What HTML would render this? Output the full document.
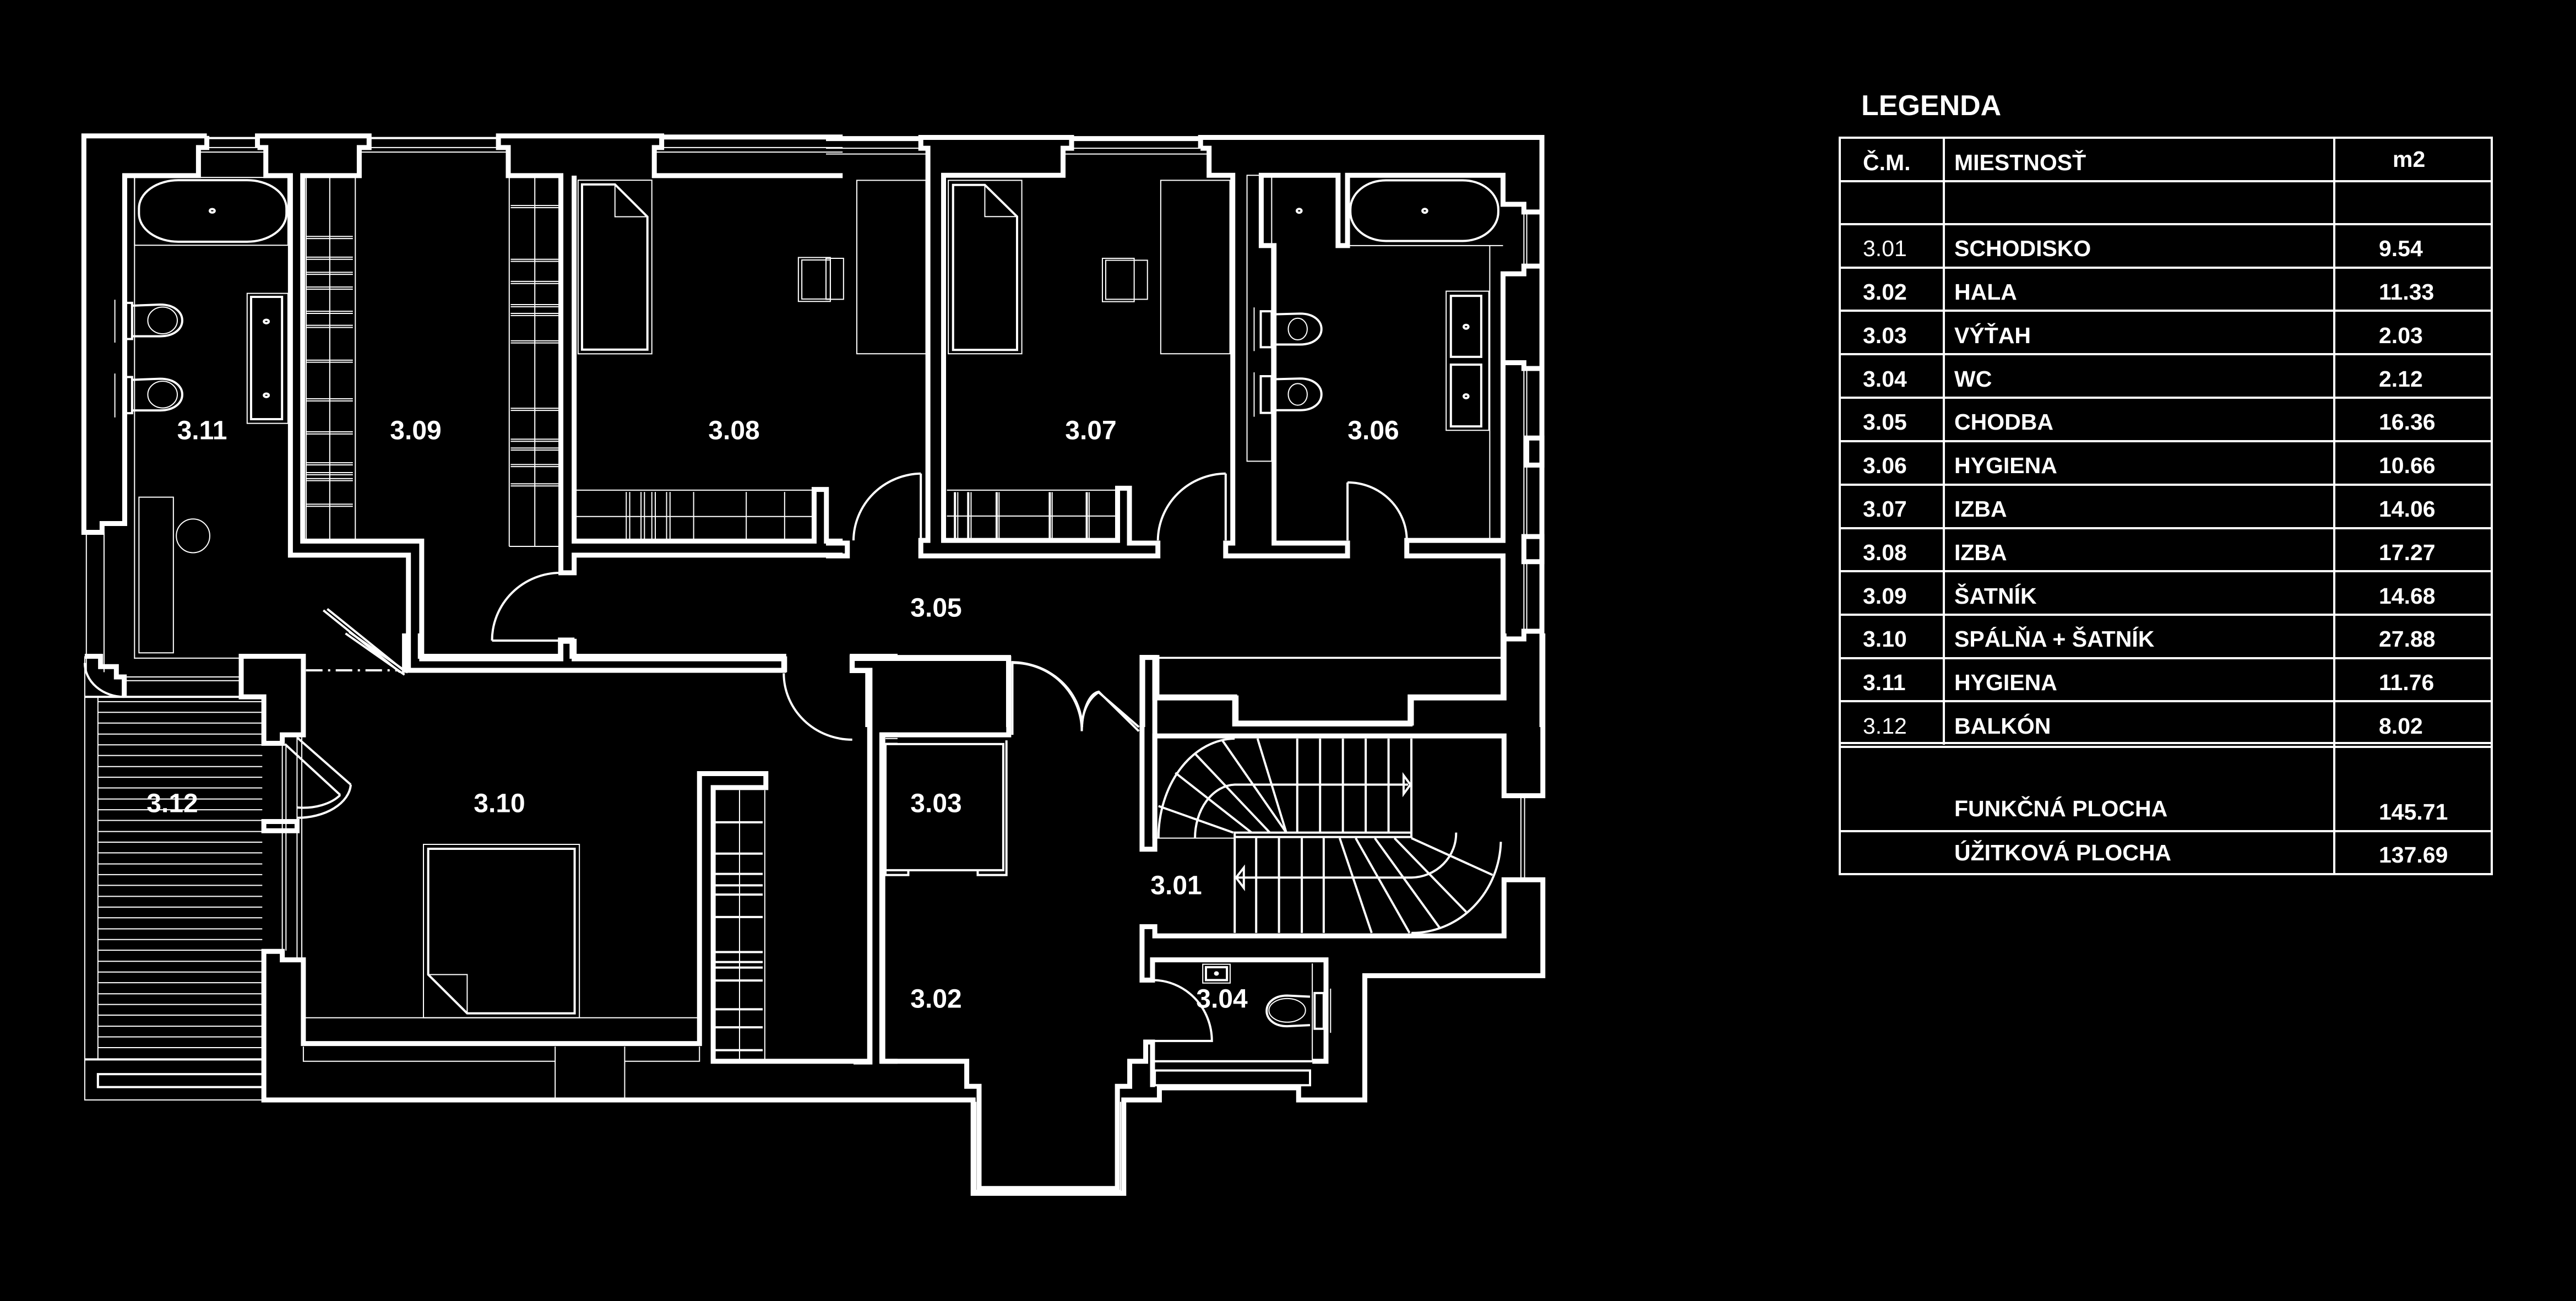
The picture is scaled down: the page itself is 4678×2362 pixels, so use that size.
<!DOCTYPE html>
<html><head><meta charset="utf-8">
<style>
html,body{margin:0;padding:0;background:#000;}
svg{display:block}
svg *{vector-effect:non-scaling-stroke}
.w{stroke:#fff;stroke-width:9;fill:none;stroke-linejoin:miter}
.m{stroke:#fff;stroke-width:4;fill:none}
.t{stroke:#fff;stroke-width:2;fill:none}
.lbl{font-family:"Liberation Sans",sans-serif;font-weight:bold;font-size:48px;fill:#fff;text-anchor:middle;dominant-baseline:central}
.lg{font-family:"Liberation Sans","DejaVu Sans",sans-serif;font-weight:bold;font-size:41px;fill:#fff}
</style></head>
<body>
<svg width="4678" height="2362" viewBox="0 0 4678 2362" xmlns="http://www.w3.org/2000/svg">
<rect width="4678" height="2362" fill="#000"/>

<!-- ZOOM2 region -->
<g transform="translate(130,220) scale(0.893,0.638)">
<polyline class="w" points="275,42 25,42 25,1170 62,1170 62,1145 108,1145 108,155 258,155 258,75 275,75 275,42"/>
<polyline class="w" points="378,75 378,42 605,42 605,75 585,75 585,155 470,155 470,1195 712,1195 712,1530 995,1530 995,1480 1022,1480 1022,1530 1450,1530 1450,1568"/>
<polyline class="w" points="378,75 395,75 395,155 445,155 445,1235 685,1235 685,1568"/>
<polyline class="w" points="1568,155 1185,155 1185,75 1200,75 1200,42 868,42 868,75 888,75 888,155 995,155 995,1285 1022,1285 1022,1235 1568,1235"/>
<polyline class="w" points="1022,155 1022,1195 1510,1195 1510,1048 1535,1048 1535,1195 1568,1195"/>
<line class="m" x1="275" y1="48" x2="378" y2="48"/><line class="t" x1="275" y1="75" x2="378" y2="75"/><line class="t" x1="258" y1="88" x2="395" y2="88"/>
<line class="m" x1="605" y1="48" x2="868" y2="48"/><line class="t" x1="605" y1="75" x2="868" y2="75"/><line class="t" x1="585" y1="88" x2="888" y2="88"/>
<line class="w" x1="1200" y1="45" x2="1568" y2="45"/><line class="t" x1="1200" y1="75" x2="1568" y2="75"/><line class="t" x1="1185" y1="88" x2="1568" y2="88"/>
<!-- 3.11 -->
<line class="t" x1="128" y1="160" x2="128" y2="1530"/>
<rect class="t" x="128" y="160" width="312" height="193"/>
<rect class="m" x="137" y="168" width="300" height="175" rx="80" ry="80"/>
<circle class="m" cx="286" cy="255" r="5"/>
<rect class="t" x="357" y="490" width="83" height="370"/>
<rect class="m" x="365" y="500" width="63" height="348"/>
<circle class="m" cx="396" cy="570" r="5"/><circle class="m" cx="396" cy="780" r="5"/>
<rect class="m" x="110" y="517" width="13" height="103"/>
<path class="m" d="M123,525 L180,522 C240,522 240,612 180,612 L123,612"/>
<ellipse class="t" cx="185" cy="567" rx="30" ry="38"/>
<rect class="m" x="110" y="728" width="13" height="103"/>
<path class="m" d="M123,736 L180,733 C240,733 240,823 180,823 L123,823"/>
<ellipse class="t" cx="185" cy="778" rx="30" ry="38"/>
<line class="t" x1="88" y1="508" x2="88" y2="630"/><line class="t" x1="88" y1="718" x2="88" y2="843"/>
<rect class="t" x="137" y="1070" width="70" height="443"/>
<ellipse class="t" cx="247" cy="1180" rx="34" ry="48"/>
<line class="t" x1="128" y1="1528" x2="345" y2="1528"/>
<line class="t" x1="30" y1="1170" x2="30" y2="1568"/><line class="t" x1="66" y1="1170" x2="66" y2="1568"/>
<line class="m" x1="512" y1="1392" x2="668" y2="1568"/><line class="m" x1="520" y1="1388" x2="676" y2="1564"/>
<!-- 3.09 -->
<line class="t" x1="477" y1="160" x2="477" y2="1195"/><line class="t" x1="525" y1="160" x2="525" y2="1195"/><line class="t" x1="577" y1="160" x2="577" y2="1195"/>
<g class="t">
<path d="M477,328H572M477,387H572M477,430H572M477,472H572M477,541H572M477,581H572M477,680H572M477,790H572M477,884H572M477,972H572M477,1000H572M477,1017H572M477,1090H572"/>
<path d="M477,334H572M477,393H572M477,436H572M477,478H572M477,547H572M477,587H572M477,686H572M477,796H572M477,890H572M477,978H572M477,1006H572M477,1023H572M477,1096H572"/>
</g>
<line class="t" x1="890" y1="160" x2="890" y2="1210"/><line class="t" x1="942" y1="160" x2="942" y2="1210"/><line class="t" x1="890" y1="1210" x2="990" y2="1210"/>
<g class="t">
<path d="M893,240H990M893,393H990M893,456H990M893,522H990M893,547H990M893,625H990M893,817H990M893,905H990M893,930H990M893,977H990M893,1032H990"/>
<path d="M893,246H990M893,399H990M893,462H990M893,528H990M893,553H990M893,631H990M893,823H990M893,911H990M893,936H990M893,983H990M893,1038H990"/>
</g>
<!-- 3.08 -->
<rect class="t" x="1030" y="168" width="150" height="494"/>
<path class="m" d="M1038,180 L1105,180 L1171,272 L1171,650 L1038,650 Z"/>
<path class="t" d="M1105,180 L1105,272 L1171,272"/>
<rect class="t" x="1478" y="388" width="65" height="125"/>
<rect class="t" x="1485" y="395" width="58" height="111"/>
<line class="t" x1="1025" y1="1050" x2="1510" y2="1050"/><line class="t" x1="1025" y1="1125" x2="1510" y2="1125"/>
<path class="t" d="M1128,1055V1192M1135,1055V1192M1158,1055V1192M1165,1055V1192M1180,1055V1192M1187,1055V1192M1210,1055V1192M1217,1055V1192M1265,1055V1192M1372,1055V1192M1450,1055V1192"/>
<path class="m" d="M855,1478 A140,193 0 0 1 995,1285"/>
<line class="m" x1="855" y1="1478" x2="995" y2="1478"/>
</g>

<!-- ZOOM3 region -->
<g transform="translate(1500,220) scale(0.861,0.7015)">
<line class="w" x1="0" y1="45" x2="200" y2="45"/><line class="t" x1="0" y1="70" x2="200" y2="70"/><line class="t" x1="0" y1="85" x2="215" y2="85"/>
<line class="w" x1="518" y1="45" x2="790" y2="45"/><line class="t" x1="518" y1="70" x2="790" y2="70"/><line class="t" x1="500" y1="85" x2="808" y2="85"/>
<polyline class="w" points="0,1092 45,1092 45,1125 0,1125"/>
<path class="m" d="M58,1085 A145,175 0 0 1 200,912"/><line class="m" x1="200" y1="912" x2="200" y2="1085"/>
<polygon class="w" points="200,42 518,42 518,70 500,70 500,140 248,140 248,1085 615,1085 615,950 640,950 640,1092 700,1092 700,1125 200,1125 200,1085 215,1085 215,70 200,70"/>
<path class="m" d="M700,1085 A145,175 0 0 1 843,912"/><line class="m" x1="843" y1="912" x2="843" y2="1085"/>
<polyline class="w" points="790,70 790,42 1510,42 1510,1568"/>
<polyline class="w" points="790,70 808,70 808,140 858,140 858,1092 843,1092 843,1125 1100,1125 1100,1092 945,1092 945,322 918,322 918,140 1080,140 1080,322 1100,322 1100,140 1428,140 1428,215 1472,215 1472,235 1510,235"/>
<polyline class="w" points="1510,375 1472,375 1472,395 1428,395 1428,625 1472,625 1472,640 1510,640"/>
<rect class="w" x="1478" y="820" width="32" height="70"/>
<polyline class="w" points="1428,625 1428,1085 1225,1085 1225,1125 1428,1125 1428,1340 1472,1340 1472,1320 1510,1320"/>
<rect class="w" x="1472" y="1075" width="38" height="65"/>
<path class="t" d="M1472,235V375M1478,235V375M1472,640V1075M1478,640V1075M1472,1140V1320M1478,1140V1320"/>
<path class="m" d="M1100,935 A125,150 0 0 1 1225,1085"/><line class="m" x1="1100" y1="935" x2="1100" y2="1085"/>
<line class="t" x1="1400" y1="322" x2="1400" y2="1085"/>
<rect class="t" x="888" y="140" width="52" height="740"/>
<line class="t" x1="1100" y1="322" x2="1428" y2="322"/>
<rect class="m" x="1106" y="153" width="312" height="157" rx="75" ry="75"/>
<circle class="m" cx="1263" cy="232" r="5"/><circle class="m" cx="998" cy="232" r="5"/>
<rect class="t" x="1308" y="440" width="90" height="360"/>
<rect class="m" x="1318" y="452" width="64" height="158"/><rect class="m" x="1318" y="630" width="64" height="160"/>
<circle class="m" cx="1350" cy="532" r="5"/><circle class="m" cx="1350" cy="712" r="5"/>
<rect class="m" x="917" y="492" width="23" height="93"/>
<path class="m" d="M940,500 L1000,498 C1060,498 1060,578 1000,578 L940,578"/><ellipse class="t" cx="995" cy="538" rx="20" ry="28"/>
<rect class="m" x="917" y="660" width="23" height="95"/>
<path class="m" d="M940,668 L1000,666 C1060,666 1060,748 1000,748 L940,748"/><ellipse class="t" cx="995" cy="707" rx="20" ry="28"/>
<line class="t" x1="903" y1="482" x2="903" y2="595"/><line class="t" x1="903" y1="650" x2="903" y2="765"/>
<!-- 3.07 furniture -->
<rect class="t" x="258" y="153" width="155" height="449"/>
<path class="m" d="M268,165 L335,165 L403,247 L403,592 L268,592 Z"/>
<path class="t" d="M335,165 L335,247 L403,247"/>
<rect class="t" x="706" y="153" width="146" height="449"/>
<rect class="t" x="583" y="355" width="67" height="112"/><rect class="t" x="590" y="360" width="88" height="101"/>
<rect class="t" x="65" y="153" width="146" height="449"/>
<rect class="t" x="0" y="355" width="37" height="106"/>
<line class="t" x1="255" y1="955" x2="612" y2="955"/><line class="t" x1="255" y1="1022" x2="612" y2="1022"/>
<path class="m" d="M272,960V1085M300,960V1085M360,960V1085M472,960V1085M550,960V1085"/>
<path class="t" d="M278,960V1085M306,960V1085M365,960V1085M477,960V1085M555,960V1085"/>
<!-- corridor bottom -->
<polyline class="w" points="88,1568 88,1422 55,1422 55,1388 385,1388 385,1568"/>
<path class="m" d="M392,1400 A150,170 0 0 1 540,1568"/>
<path class="m" d="M540,1568 A60,100 0 0 1 575,1478 L660,1568"/>
<polyline class="w" points="668,1568 668,1388 698,1388 698,1490 862,1490 862,1560 1232,1560 1232,1490 1428,1490 1428,1340"/>
<line class="t" x1="698" y1="1390" x2="1425" y2="1390"/>
</g>

<!-- ZOOM4 region -->
<g transform="translate(130,1150) scale(0.9566,0.6696)">
<line class="m" x1="520" y1="0" x2="632" y2="112"/><line class="m" x1="527" y1="-4" x2="638" y2="106"/>
<line class="m" x1="445" y1="100" x2="620" y2="100" stroke-dasharray="30,10,4,10"/>
<polygon class="w" points="322,62 440,62 440,275 400,275 400,298 365,298 365,172 322,172"/>
<polyline class="w" points="662,0 662,62 928,62 928,18 950,18 950,62 1352,62 1352,100 632,100 632,0"/>
<polyline class="w" points="1568,62 1482,62 1482,100 1515,100 1515,1160 1218,1160 1218,418 1318,418 1318,380 1192,380 1192,1112 440,1112 440,885 400,885 400,862 365,862 365,1265 1568,1265"/>
<polyline class="w" points="1568,275 1540,275 1540,1160 1568,1160"/>
<path class="t" d="M1545,285H1568M1545,298H1568M1545,642H1568M1545,655H1568"/>
<rect class="w" x="365" y="510" width="63" height="25"/>
<path class="t" d="M400,300V860M407,300V860M428,280V885M437,280V885"/>
<line class="m" x1="405" y1="300" x2="510" y2="438"/><line class="m" x1="428" y1="282" x2="530" y2="410"/>
<path class="m" d="M428,472 A82,70 0 0 0 510,438"/><path class="m" d="M428,500 A102,95 0 0 0 530,410"/>
<!-- balcony -->
<polyline class="t" points="25,62 25,1265 365,1265"/>
<line class="t" x1="50" y1="172" x2="50" y2="1155"/>
<g class="t">
<path d="M50,185H362M50,214H362M50,243H362M50,273H362M50,302H362M50,331H362M50,361H362M50,390H362M50,419H362M50,449H362M50,478H362M50,507H362M50,537H362M50,566H362M50,595H362M50,625H362M50,654H362M50,683H362M50,713H362M50,742H362M50,771H362M50,801H362M50,830H362M50,859H362M50,889H362M50,918H362M50,947H362M50,977H362M50,1006H362M50,1035H362M50,1065H362M50,1094H362M50,1123H362"/>
</g>
<line class="m" x1="25" y1="1155" x2="365" y2="1155"/>
<rect class="m" x="50" y="1195" width="315" height="35"/>
<line class="m" x1="25" y1="172" x2="322" y2="172"/>
<polyline class="w" points="25,62 55,62 55,90 85,90 85,118 100,118 100,172"/>
<path class="m" d="M25,80 A75,92 0 0 0 100,172"/>
<line class="t" x1="100" y1="118" x2="322" y2="118"/><line class="t" x1="100" y1="128" x2="322" y2="128"/>
<!-- bed -->
<rect class="t" x="668" y="572" width="296" height="470"/>
<path class="m" d="M677,584 L955,584 L955,1030 L751,1030 L677,925 Z"/>
<path class="t" d="M677,925 L751,925 L751,1030"/>
<line class="t" x1="440" y1="1042" x2="1192" y2="1042"/>
<path class="t" d="M440,1120V1160H918M1050,1160H1192V1120M918,1120V1260M1050,1120V1260"/>
<path class="m" d="M1352,108 A130,180 0 0 0 1482,288"/>
<path class="t" d="M1268,425V1155M1316,425V1155"/>
<g class="m">
<path d="M1222,512H1312M1222,597H1312M1222,652H1312M1222,683H1312M1222,708H1312M1222,769H1312M1222,864H1312M1222,891H1312M1222,906H1312M1222,941H1312M1222,1019H1312M1222,1068H1312M1222,1130H1312"/>
</g>
</g>

<!-- ZOOM5 region -->
<g transform="translate(1550,1150) scale(0.829,0.6696)">
<polyline class="w" points="0,68 340,68 340,275 62,275 62,1160 248,1160 248,1228 275,1228 275,1505 578,1505 578,1228 605,1228 605,1160 640,1160 640,1108 655,1108 655,1230"/>
<line class="m" x1="348" y1="75" x2="348" y2="275"/>
<polyline class="w" points="0,100 36,100 36,1162 0,1162"/>
<polyline class="w" points="0,1265 262,1265 262,1518 592,1518 592,1265 670,1265 670,1232 975,1232 975,1265 1120,1265 1120,928 1510,928 1510,668 1425,668 1425,820 660,820 660,795 632,795 632,940 655,940 655,885 1035,885 1035,1160 1005,1160"/>
<path class="t" d="M268,1270V1510H585V1270"/>
<rect class="m" x="70" y="300" width="258" height="342"/>
<path class="m" d="M70,642V655H120V642M272,642V655H335V290"/>
<path class="m" d="M348,80 A150,185 0 0 1 500,265"/>
<path class="m" d="M500,265 A40,110 0 0 1 537,158 L625,265"/>
<rect class="w" x="632" y="65" width="28" height="520"/>
<line class="t" x1="660" y1="65" x2="1420" y2="65"/>
<polyline class="w" points="660,65 660,175 838,175 838,243 1222,243 1222,175 1425,175 1425,0"/>
<polyline class="w" points="1510,0 1510,440 1425,440 1425,278 660,278 660,555"/>
<path class="t" d="M1462,440V668M1470,440V668"/>
<!-- stairs -->
<rect class="m" x="835" y="540" width="387" height="12"/>
<line class="t" x1="660" y1="555" x2="835" y2="555"/>
<path class="m" d="M972,285V540M1022,285V540M1072,285V540M1122,285V540M1172,285V540M1222,285V540"/>
<path class="m" d="M832,540L668,468M872,540L705,378M912,540L748,326M948,540L808,290M948,540L885,285"/>
<path class="m" d="M668,555 A170,270 0 0 1 835,285"/>
<path class="m" d="M748,555 A90,145 0 0 1 835,410 L1215,410"/>
<path class="m" d="M1205,385 L1220,410 L1205,435 Z"/>
<path class="m" d="M835,555V812M882,555V812M932,555V812M982,555V812M1030,555V812"/>
<path class="m" d="M1065,555L1135,812M1100,555L1218,812M1142,555L1285,800M1185,555L1342,755M1222,555L1400,655"/>
<path class="m" d="M1222,812 A195,255 0 0 0 1418,565"/>
<path class="m" d="M1320,540 A100,120 0 0 1 1222,662 L840,662"/>
<path class="m" d="M855,635 L838,662 L855,690 Z"/>
<!-- WC -->
<line class="t" x1="1005" y1="895" x2="1005" y2="1160"/>
<rect class="t" x="765" y="897" width="60" height="51"/><rect class="m" x="772" y="905" width="46" height="35"/><circle class="m" cx="795" cy="922" r="3"/>
<rect class="m" x="1010" y="975" width="20" height="97"/>
<path class="m" d="M1000,985 L950,982 C890,982 890,1065 950,1065 L1000,1062"/>
<ellipse class="t" cx="950" cy="1022" rx="40" ry="32"/>
<line class="t" x1="1045" y1="963" x2="1045" y2="1083"/>
<path class="m" d="M655,940 A130,165 0 0 1 785,1105 L655,1105"/>
<line class="m" x1="655" y1="1160" x2="1005" y2="1160"/>
<rect class="m" x="660" y="1185" width="340" height="40"/>
</g>

<!-- room labels -->
<g class="lbl">
<text x="367" y="782">3.11</text>
<text x="755" y="782">3.09</text>
<text x="1333" y="782">3.08</text>
<text x="1981" y="782">3.07</text>
<text x="2494" y="782">3.06</text>
<text x="1700" y="1104">3.05</text>
<text x="313" y="1459">3.12</text>
<text x="907" y="1459">3.10</text>
<text x="1700" y="1459">3.03</text>
<text x="2136" y="1608">3.01</text>
<text x="1700" y="1814">3.02</text>
<text x="2219" y="1814">3.04</text>
</g>

<!-- legend -->
<text x="3380" y="209" style="font-family:'Liberation Sans',sans-serif;font-weight:bold;font-size:52px;fill:#fff">LEGENDA</text>
<g stroke="#fff" stroke-width="4" fill="none">
<rect x="3341" y="250" width="1184" height="1337"/>
<line x1="3530" y1="250" x2="3530" y2="1352"/>
<line x1="4239" y1="250" x2="4239" y2="1587"/>
<path d="M3341,329H4525M3341,407H4525M3341,486H4525M3341,564H4525M3341,643H4525M3341,722H4525M3341,801H4525M3341,880H4525M3341,959H4525M3341,1037H4525M3341,1116H4525M3341,1195H4525M3341,1273H4525M3341,1349H4525M3341,1356H4525M3341,1509H4525"/>
</g>
<g class="lg">
<text x="3383" y="309">Č.M.</text><text x="3549" y="309">MIESTNOSŤ</text><text x="4345" y="303">m2</text>
<text x="3383" y="465" style="font-weight:normal">3.01</text><text x="3549" y="465">SCHODISKO</text><text x="4320" y="465">9.54</text>
<text x="3383" y="544">3.02</text><text x="3549" y="544">HALA</text><text x="4320" y="544">11.33</text>
<text x="3383" y="623">3.03</text><text x="3549" y="623">VÝŤAH</text><text x="4320" y="623">2.03</text>
<text x="3383" y="702">3.04</text><text x="3549" y="702">WC</text><text x="4320" y="702">2.12</text>
<text x="3383" y="780">3.05</text><text x="3549" y="780">CHODBA</text><text x="4320" y="780">16.36</text>
<text x="3383" y="859">3.06</text><text x="3549" y="859">HYGIENA</text><text x="4320" y="859">10.66</text>
<text x="3383" y="938">3.07</text><text x="3549" y="938">IZBA</text><text x="4320" y="938">14.06</text>
<text x="3383" y="1017">3.08</text><text x="3549" y="1017">IZBA</text><text x="4320" y="1017">17.27</text>
<text x="3383" y="1096">3.09</text><text x="3549" y="1096">ŠATNÍK</text><text x="4320" y="1096">14.68</text>
<text x="3383" y="1174">3.10</text><text x="3549" y="1174">SPÁLŇA + ŠATNÍK</text><text x="4320" y="1174">27.88</text>
<text x="3383" y="1253">3.11</text><text x="3549" y="1253">HYGIENA</text><text x="4320" y="1253">11.76</text>
<text x="3383" y="1332" style="font-weight:normal">3.12</text><text x="3549" y="1332">BALKÓN</text><text x="4320" y="1332">8.02</text>
<text x="3549" y="1482">FUNKČNÁ PLOCHA</text><text x="4320" y="1488">145.71</text>
<text x="3549" y="1562">ÚŽITKOVÁ  PLOCHA</text><text x="4320" y="1566">137.69</text>
</g>
</svg>
</body></html>
